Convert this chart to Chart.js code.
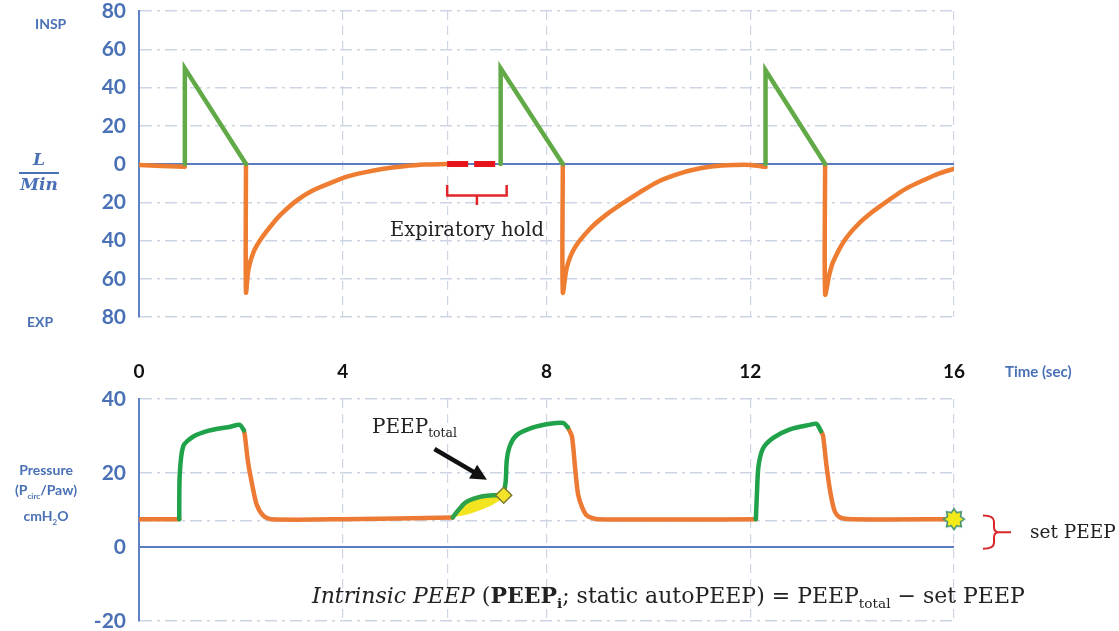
<!DOCTYPE html>
<html>
<head>
<meta charset="utf-8">
<script src="https://cdn.jsdelivr.net/npm/chart.js@4.4.1/dist/chart.umd.min.js"></script>
<style>
  body { margin: 0; width: 1119px; height: 631px; position: relative; background: #fff; overflow: hidden; }
  canvas { position: absolute; left: 0; }
  .lbl { position: absolute; font-family: 'Lato', 'Liberation Sans', sans-serif; font-weight: bold; color: #4a71b5; white-space: nowrap; }
  .note { position: absolute; font-family: 'DejaVu Serif', 'Liberation Serif', serif; color: #222; white-space: nowrap; }
  .note sub { font-size: 62%; vertical-align: -0.35em; }
</style>
</head>
<body>
<canvas id="flow" width="1119" height="360" style="top:-20px"></canvas>
<canvas id="pressure" width="1119" height="291" style="top:340px"></canvas>

<div class="lbl" style="left:35px;top:15px;font-size:14px">INSP</div>
<div class="lbl" style="left:27px;top:313px;font-size:14px">EXP</div>
<div class="lbl" style="left:19px;top:149px;width:40px;text-align:center;font-family:'DejaVu Serif',serif;font-style:italic;font-size:17px;line-height:20px">L<div style="border-top:2px solid #4a71b5;margin-top:3px"></div>Min</div>
<div class="lbl" style="left:1005px;top:362px;font-size:15px">Time (sec)</div>
<div class="lbl" style="left:0;top:460px;width:92px;text-align:center;font-size:14px;line-height:20px">Pressure<br>(P<sub style="font-size:8px">circ</sub>/Paw)<br>cmH<sub style="font-size:8px">2</sub>O</div>

<div class="note" style="left:390px;top:218px;font-size:19.5px">Expiratory hold</div>
<div class="note" style="left:372px;top:414px;font-size:20px">PEEP<sub>total</sub></div>
<div class="note" style="left:1030px;top:521px;font-size:18.5px">set PEEP</div>
<div class="note" style="left:312px;top:582px;font-size:22px"><i>Intrinsic PEEP</i> (<b>PEEP<sub>i</sub></b>; static autoPEEP) = PEEP<sub>total</sub> − set PEEP</div>

<script>
// time axis (sec)
const timeTicks = [0, 4, 8, 12, 16];
const holdStart = 6.05;

// flow (L/min), insp positive, exp negative
const inspT = [0.9, 0.9, 2.1, null, 7.1, 7.1, 8.32, null, 12.3, 12.3, 13.47];
const inspF = [0, 50, 0, null, 0, 50, 0, null, 0, 49, 0];
const expT = [0, 0.9, null,
  2.1, 2.1, 2.15, 2.25, 2.4, 2.6, 2.8, 3.1, 3.4, 3.75, 4.1, 4.4, 4.8, 5.2, 5.6, 6.05, null,
  8.32, 8.32, 8.4, 8.55, 8.85, 9.15, 9.5, 9.85, 10.17, 10.5, 10.8, 11.27, 11.7, 12.0, 12.3, null,
  13.47, 13.47, 13.55, 13.63, 13.85, 14.1, 14.4, 14.74, 15.05, 15.4, 15.7, 16];
const expF = [-0.5, -1.5, null,
  0, -67, -55, -46, -39, -32, -26, -19, -14, -10, -6.5, -4.5, -2.5, -1.2, -0.3, 0, null,
  0, -67, -54, -44, -34, -27, -20.5, -14.5, -9.5, -6, -3.5, -1.2, -0.5, -0.5, -1.5, null,
  0, -68, -58, -51, -40, -32, -25, -18.5, -13, -8.5, -5, -2.5];
const holdT = [6.05, 7.1];
const holdF = [0, 0];

// airway pressure (cmH2O)
const setPeep = 7;
const pInspT = [0.79, 0.8, 0.87, 1.06, 1.39, 1.79, 1.98, 2.06, null,
  7.16, 7.2, 7.22, 7.28, 7.42, 7.74, 8.07, 8.33, 8.42, null,
  12.11, 12.13, 12.16, 12.25, 12.45, 12.78, 13.17, 13.3, 13.39];
const pInspV = [7.5, 19.7, 27.3, 29.8, 31.5, 32.5, 33, 31.5, null,
  14, 17.9, 23.4, 27.3, 30.3, 32.3, 33.3, 33.5, 32.3, null,
  7.5, 14, 21.6, 26.6, 29.5, 31.8, 33, 33.3, 31.3];
const pExpT = [0, 0.79, null,
  2.06, 2.08, 2.14, 2.22, 2.31, 2.44, 2.6, 4, 6.16, null,
  8.42, 8.5, 8.56, 8.62, 8.7, 8.79, 9.0, 12.11, null,
  13.39, 13.43, 13.5, 13.58, 13.66, 13.76, 14.0, 16];
const pExpV = [7.5, 7.5, null,
  31.5, 30, 23, 17, 11.5, 8.5, 7.5, 7.5, 8, null,
  32.3, 29.8, 21.6, 14.2, 10.7, 8.5, 7.5, 7.5, null,
  31.3, 30, 21.6, 14.2, 9.6, 8, 7.5, 7.5];
const occT = [6.16, 6.3, 6.44, 6.75, 7.0, 7.16];
const occV = [8, 10.5, 12.3, 13.7, 14, 14];
const occBaseT = [6.16, 6.5, 6.85, 7.16];
const occBaseV = [8, 9, 10.8, 13.2];
const peepTotal = [7.16, 14];
const endPoint = [16, 7.5];

const BLUE = '#4a71b5';
const AXIS = '#5f82c4';
const GRID = '#cdd5e5';

function pts(ts, vs) {
  let last = 0;
  return ts.map((t, i) => {
    if (t === null || vs[i] === null) return {x: last, y: null};
    last = t;
    return {x: t, y: vs[i]};
  });
}

function line(data, color, width, extra) {
  return Object.assign({data: data, borderColor: color, backgroundColor: color, borderWidth: width,
    pointRadius: 0, tension: 0, spanGaps: false, fill: false,
    borderJoinStyle: 'round', borderCapStyle: 'round'}, extra || {});
}

function xScale(showLabels) {
  return {
    type: 'linear', min: 0, max: 16, position: showLabels ? 'top' : 'bottom',
    afterBuildTicks: s => { s.ticks = timeTicks.map(v => ({value: v})).concat([{value: holdStart}]); },
    afterFit: s => { s.height = showLabels ? 59 : 0; s.paddingLeft = s.paddingRight = 0; },
    grid: {color: GRID, lineWidth: 1.2, drawTicks: false},
    border: {display: false, dash: [9, 6]},
    ticks: {display: showLabels, padding: 16, color: '#111', font: {family: 'Lato', weight: 'bold', size: 19},
      callback: v => timeTicks.includes(v) ? v : ''}
  };
}

function yScale(min, max, extraTick, fmt) {
  return {
    type: 'linear', min: min, max: max,
    afterBuildTicks: s => {
      const t = [];
      for (let v = max; v >= min; v -= 20) t.push({value: v});
      if (extraTick !== null) t.push({value: extraTick});
      s.ticks = t;
    },
    afterFit: s => { s.width = 139; s.paddingTop = s.paddingBottom = 0; },
    grid: {color: GRID, lineWidth: 1.5, drawTicks: false},
    border: {display: true, color: AXIS, width: 2, dash: [12, 5, 3, 5]},
    ticks: {padding: 13, color: BLUE, font: {family: 'Lato', weight: 'bold', size: 21},
      callback: v => v === extraTick ? '' : fmt(v)}
  };
}

const baseOpts = {
  responsive: false, animation: false, devicePixelRatio: 1,
  plugins: {legend: {display: false}, tooltip: {enabled: false}}
};

// top: bracket under the expiratory hold
const bracketPlugin = {
  id: 'bracket',
  afterDatasetsDraw(chart) {
    const {ctx, scales: {x, y}} = chart;
    const x1 = x.getPixelForValue(holdT[0]), x2 = x.getPixelForValue(holdT[1]) + 6;
    const yTop = y.getPixelForValue(-11), yBar = y.getPixelForValue(-16.5), yTip = y.getPixelForValue(-21.5);
    const xm = (x1 + x2) / 2;
    ctx.save();
    ctx.strokeStyle = '#e0262b';
    ctx.lineWidth = 2.5;
    ctx.beginPath();
    ctx.moveTo(x1, yTop); ctx.lineTo(x1, yBar); ctx.lineTo(x2, yBar); ctx.lineTo(x2, yTop);
    ctx.moveTo(xm, yBar); ctx.lineTo(xm, yTip);
    ctx.stroke();
    ctx.restore();
  }
};

new Chart(document.getElementById('flow'), {
  type: 'line',
  data: {datasets: [
    line(pts(holdT, holdF), '#e8141c', 6, {borderDash: [21, 6], borderCapStyle: 'butt'}),
    line(pts(inspT, inspF), '#62aa47', 4.5, {borderJoinStyle: 'miter'}),
    line(pts(expT, expF), '#ee7d31', 4.5, {tension: 0.3}),
    line(pts([0, 16], [0, 0]), '#5b7cc0', 2)
  ]},
  options: Object.assign({}, baseOpts, {
    layout: {padding: {left: 0, right: 165, top: 31, bottom: 23}},
    scales: {x: xScale(false), y: yScale(-80, 80, null, v => Math.abs(v))}
  }),
  plugins: [bracketPlugin]
});

// bottom: arrow to PEEP total and brace for set PEEP
const notePlugin = {
  id: 'notes',
  afterDatasetsDraw(chart) {
    const {ctx, scales: {x, y}} = chart;
    const ax = x.getPixelForValue(5.8), ay = y.getPixelForValue(26.5);
    const bx = x.getPixelForValue(6.83), by = y.getPixelForValue(18.2);
    const ang = Math.atan2(by - ay, bx - ax);
    ctx.save();
    ctx.strokeStyle = '#111'; ctx.fillStyle = '#111'; ctx.lineWidth = 4.5;
    ctx.beginPath();
    ctx.moveTo(ax, ay);
    ctx.lineTo(bx - 12 * Math.cos(ang), by - 12 * Math.sin(ang));
    ctx.stroke();
    ctx.beginPath();
    ctx.moveTo(bx, by);
    ctx.lineTo(bx - 16 * Math.cos(ang) + 8 * Math.sin(ang), by - 16 * Math.sin(ang) - 8 * Math.cos(ang));
    ctx.lineTo(bx - 16 * Math.cos(ang) - 8 * Math.sin(ang), by - 16 * Math.sin(ang) + 8 * Math.cos(ang));
    ctx.closePath(); ctx.fill();
    // brace
    const r = chart.chartArea.right;
    const top = y.getPixelForValue(setPeep + 1.5), bot = y.getPixelForValue(-0.5), mid = (top + bot) / 2;
    ctx.strokeStyle = '#d9262b'; ctx.lineWidth = 2;
    ctx.beginPath();
    ctx.moveTo(r + 29, top);
    ctx.quadraticCurveTo(r + 40, top, r + 40, top + 6);
    ctx.lineTo(r + 40, mid - 5);
    ctx.quadraticCurveTo(r + 40, mid, r + 45, mid);
    ctx.quadraticCurveTo(r + 40, mid, r + 40, mid + 5);
    ctx.lineTo(r + 40, bot - 6);
    ctx.quadraticCurveTo(r + 40, bot, r + 29, bot);
    ctx.moveTo(r + 45, mid); ctx.lineTo(r + 57, mid);
    ctx.stroke();
    ctx.restore();
  }
};

function burst() {
  const c = document.createElement('canvas');
  c.width = c.height = 24;
  const g = c.getContext('2d');
  g.beginPath();
  for (let i = 0; i < 16; i++) {
    const rr = i % 2 ? 7 : 10.5, a = i * Math.PI / 8;
    g.lineTo(12 + rr * Math.cos(a), 12 + rr * Math.sin(a));
  }
  g.closePath();
  g.fillStyle = '#f4ea1a'; g.fill();
  g.strokeStyle = '#3f8f78'; g.lineWidth = 1.5; g.stroke();
  return c;
}

new Chart(document.getElementById('pressure'), {
  type: 'line',
  data: {datasets: [
    line([{x: endPoint[0], y: endPoint[1]}], '#f4ea1a', 0, {pointStyle: burst(), pointRadius: 10, clip: false}),
    line([{x: peepTotal[0], y: peepTotal[1]}], '#7d7a2e', 1.5, {pointStyle: 'rectRot', pointRadius: 8,
      pointBackgroundColor: '#f3e42a', pointBorderColor: '#7d7a2e', pointBorderWidth: 1.5}),
    line(pts(occT, occV), '#2ca24a', 4.5, {tension: 0.3, fill: '+1', backgroundColor: '#f2e51f'}),
    line(pts(occBaseT, occBaseV), 'rgba(0,0,0,0)', 0, {tension: 0.3}),
    line(pts(pInspT, pInspV), '#1fa24a', 4.5, {tension: 0.25}),
    line(pts(pExpT, pExpV), '#ec7a35', 4.5, {tension: 0.25}),
    line(pts([0, 16], [0, 0]), '#5b7cc0', 2)
  ]},
  options: Object.assign({}, baseOpts, {
    layout: {padding: {left: 0, right: 165, top: 0, bottom: 8}},
    scales: {x: xScale(true), y: yScale(-20, 40, setPeep, v => v)}
  }),
  plugins: [notePlugin]
});
</script>
</body>
</html>
